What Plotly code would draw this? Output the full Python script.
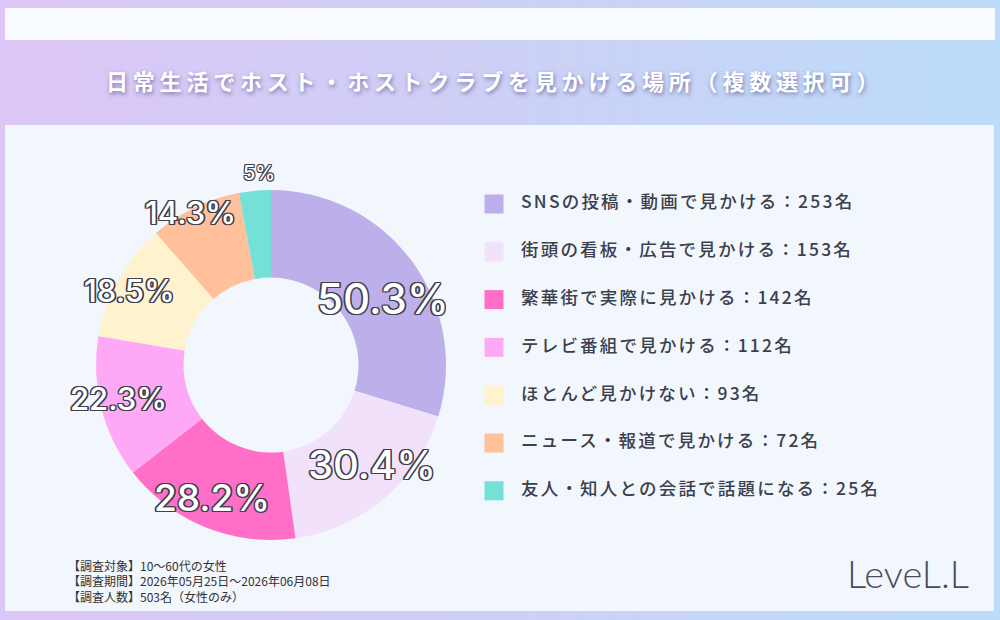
import math
import plotly.graph_objects as go

# ---------------- data ----------------
categories = [
    "SNSの投稿・動画で見かける",
    "街頭の看板・広告で見かける",
    "繁華街で実際に見かける",
    "テレビ番組で見かける",
    "ほとんど見かけない",
    "ニュース・報道で見かける",
    "友人・知人との会話で話題になる",
]
counts = [253, 153, 142, 112, 93, 72, 25]
respondents = 503
title_text = "日常生活でホスト・ホストクラブを見かける場所（複数選択可）"
footer_lines = [
    "【調査対象】10～60代の女性",
    "【調査期間】2026年05月25日～2026年06月08日",
    "【調査人数】503名（女性のみ）",
]
logo_text = "LeveL.L"

# ---------------- styles ----------------
colors = ["#bdb0ea", "#f1e1fb", "#ff6fc8", "#ffa9f6", "#fff3cf", "#ffc09b", "#75e0d6"]
label_sizes = [42, 40, 37, 31, 31, 31, 20]
label_radii = [130, 142, 145, 156, 160, 172, 192]
label_angle_nudge = [5.9, -4.9, 2.0, 1.8, -1.5, -2.0, 1.7]

W, H = 1000, 620
CX, CY, R = 271, 365, 175
HOLE = 0.5

def px_x(x):
    return x / W

def px_y(y):
    return 1 - y / H

def spaced(s, px):
    return '<span style="letter-spacing:%spx">%s</span>' % (px, s)

def lerp_hex(c1, c2, t):
    a = [int(c1[i:i + 2], 16) for i in (1, 3, 5)]
    b = [int(c2[i:i + 2], 16) for i in (1, 3, 5)]
    return "rgb(%d,%d,%d)" % tuple(round(a[k] + (b[k] - a[k]) * t) for k in range(3))

shapes = []
# background gradient (horizontal)
N = 120
stops = [(0.0, "#dcc6f6"), (0.5, "#cdd0f6"), (1.0, "#bcdcf9")]
for i in range(N):
    t = (i + 0.5) / N
    if t <= 0.5:
        col = lerp_hex(stops[0][1], stops[1][1], t / 0.5)
    else:
        col = lerp_hex(stops[1][1], stops[2][1], (t - 0.5) / 0.5)
    shapes.append(dict(type="rect", xref="paper", yref="paper",
                       x0=i / N, x1=(i + 1) / N + 0.002, y0=0, y1=1,
                       fillcolor=col, line=dict(width=0), layer="below"))
# top white band
shapes.append(dict(type="rect", xref="paper", yref="paper",
                   x0=px_x(5), x1=px_x(995), y0=px_y(40), y1=px_y(8),
                   fillcolor="#f8fbff", line=dict(width=0), layer="below"))
# main panel
shapes.append(dict(type="rect", xref="paper", yref="paper",
                   x0=px_x(5), x1=px_x(994), y0=px_y(611), y1=px_y(125),
                   fillcolor="#f2f6fd", line=dict(width=0), layer="below"))

fig = go.Figure()

fig.add_trace(go.Pie(
    values=counts,
    labels=categories,
    marker=dict(colors=colors, line=dict(width=0)),
    hole=HOLE,
    sort=False,
    direction="clockwise",
    rotation=0,
    textinfo="none",
    hoverinfo="label+value",
    showlegend=False,
    domain=dict(x=[px_x(CX - R), px_x(CX + R)], y=[px_y(CY + R), px_y(CY - R)]),
))

# legend as scatter on a pixel-like axis
LEG_X, LEG_TX, LEG_Y0, LEG_DY = 494, 521, 204, 47.8
leg_y = [LEG_Y0 + i * LEG_DY for i in range(len(categories))]
fig.add_trace(go.Scatter(
    x=[LEG_X] * len(categories), y=leg_y,
    mode="markers",
    marker=dict(symbol="square", size=19, color=colors, line=dict(width=0)),
    hoverinfo="skip", showlegend=False, cliponaxis=False,
))
fig.add_trace(go.Scatter(
    x=[LEG_TX] * len(categories), y=leg_y,
    mode="text",
    text=[spaced(c + "：" + str(v) + "名", 2.2) for c, v in zip(categories, counts)],
    textposition="middle right",
    textfont=dict(family="Noto Sans CJK JP", size=17.5, color="#3b404c", weight=500),
    hoverinfo="skip", showlegend=False, cliponaxis=False,
))

annotations = []
# percentage labels positioned at slice mid-angles
total = sum(counts)
cum = 0
for i, v in enumerate(counts):
    mid = (cum + v / 2) / total * 2 * math.pi + math.radians(label_angle_nudge[i])
    cum += v
    pct = v / respondents * 100
    txt = ("%.1f" % pct).rstrip("0").rstrip(".") + "%"
    r = label_radii[i]
    x = CX + r * math.sin(mid)
    y = CY - r * math.cos(mid)
    sw = 1.4 if label_sizes[i] > 25 else 0.9
    sh = ", ".join("%spx %spx 0 #3f3f4c" % (dx, dy) for dx, dy in
                   [(sw, 0), (-sw, 0), (0, sw), (0, -sw), (sw, sw), (-sw, -sw), (sw, -sw), (-sw, sw)])
    annotations.append(dict(
        x=px_x(x), y=px_y(y), xref="paper", yref="paper",
        text=txt, showarrow=False, xanchor="center", yanchor="middle",
        font=dict(family="Inter", size=label_sizes[i], color="white", shadow=sh, weight=500),
    ))

# title
annotations.append(dict(
    x=0.494, y=px_y(80), xref="paper", yref="paper", text=spaced(title_text, 4.8),
    showarrow=False, xanchor="center", yanchor="middle",
    font=dict(family="Noto Sans CJK JP", size=22, color="white", weight="bold",
              shadow="1px 2px 4px rgba(70,60,120,0.6)"),
))

# footer
for i, line in enumerate(footer_lines):
    annotations.append(dict(
        x=px_x(66), y=px_y(565 + i * 15.5), xref="paper", yref="paper", text=line,
        showarrow=False, xanchor="left", yanchor="middle",
        font=dict(family="Noto Sans CJK JP", size=12, color="#333333"),
    ))

# logo
annotations.append(dict(
    x=px_x(908), y=px_y(573), xref="paper", yref="paper", text=logo_text,
    showarrow=False, xanchor="center", yanchor="middle",
    font=dict(family="Lato", size=38, color="#4a4d55", weight=300),
))

fig.update_layout(
    width=W, height=H,
    margin=dict(l=0, r=0, t=0, b=0),
    paper_bgcolor="#f2f6fd",
    plot_bgcolor="rgba(0,0,0,0)",
    shapes=shapes,
    annotations=annotations,
    xaxis=dict(range=[0, W], domain=[0, 1], visible=False, fixedrange=True),
    yaxis=dict(range=[H, 0], domain=[0, 1], visible=False, fixedrange=True),
)

fig.write_html("out.html")
